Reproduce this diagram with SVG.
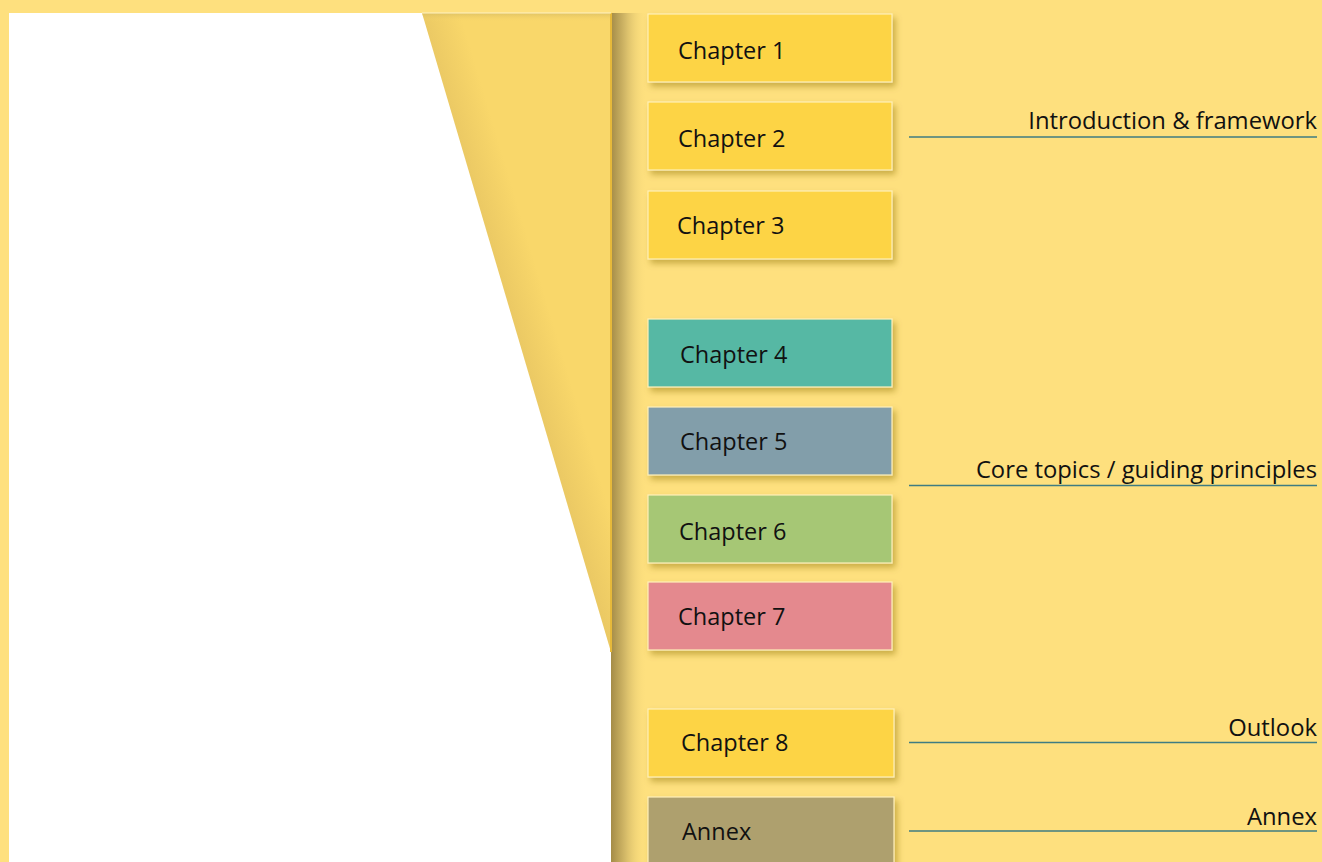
<svg xmlns="http://www.w3.org/2000/svg" width="1322" height="862" viewBox="0 0 1322 862">
  <defs>
    <style>
      .box { stroke: #FFF1B8; stroke-width: 1.2; filter: url(#drop); }
      .lbl { font-family: "Open Sans", "Noto Sans", sans-serif; font-size: 23.5px; fill: #111; }
      .sec { font-family: "Open Sans", "Noto Sans", sans-serif; font-size: 23.8px; fill: #111; text-anchor: end; }
      .rule { stroke: #3F7C82; stroke-width: 1.6; }
    </style>
    <filter id="drop" x="-10%" y="-20%" width="125%" height="150%">
      <feGaussianBlur in="SourceAlpha" stdDeviation="3"/>
      <feOffset dx="3" dy="4" result="b"/>
      <feFlood flood-color="#8A6E10" flood-opacity="0.45"/>
      <feComposite in2="b" operator="in"/>
      <feMerge><feMergeNode/><feMergeNode in="SourceGraphic"/></feMerge>
    </filter>
    <linearGradient id="pageShadow" x1="0" y1="0" x2="1" y2="0">
      <stop offset="0" stop-color="#A48C48"/>
      <stop offset="0.4" stop-color="#D4BA68"/>
      <stop offset="1" stop-color="#FEE07E" stop-opacity="0"/>
    </linearGradient>
    <linearGradient id="flapShade" gradientUnits="userSpaceOnUse" x1="470" y1="300" x2="540" y2="279">
      <stop offset="0" stop-color="#DEBC5E"/>
      <stop offset="1" stop-color="#F9D76A"/>
    </linearGradient>
    <linearGradient id="flapTop" x1="0" y1="0" x2="0" y2="1">
      <stop offset="0" stop-color="#D9BE62" stop-opacity="0.8"/>
      <stop offset="1" stop-color="#F9D76A" stop-opacity="0"/>
    </linearGradient>
  </defs>

  <!-- background -->
  <rect width="1322" height="862" fill="#FEE07E"/>

  <!-- page and folded corner -->
  <g id="page">
    <rect x="611" y="13" width="36" height="849" fill="url(#pageShadow)"/>
    <rect x="9" y="13" width="602" height="849" fill="#FFFFFF"/>
    <polygon points="422,13 611,13 611,652" fill="url(#flapShade)"/>
    <polygon points="422,13 611,13 611,22 425,22" fill="url(#flapTop)"/>
    <line x1="611" y1="13" x2="611" y2="652" stroke="#E6B93A" stroke-width="2"/>
    <line x1="422" y1="13" x2="611" y2="13" stroke="#FFF3C4" stroke-width="1"/>
  </g>

  <!-- chapter boxes -->
  <g id="chapter1"><rect class="box" x="648" y="14" width="244" height="68" fill="#FDD444"/><text class="lbl" x="678" y="59">Chapter 1</text></g>
  <g id="chapter2"><rect class="box" x="648" y="102" width="244" height="68" fill="#FDD444"/><text class="lbl" x="678" y="147">Chapter 2</text></g>
  <g id="chapter3"><rect class="box" x="648" y="191" width="244" height="68" fill="#FDD444"/><text class="lbl" x="677" y="234">Chapter 3</text></g>
  <g id="chapter4"><rect class="box" x="648" y="319" width="244" height="68" fill="#56B8A4"/><text class="lbl" x="680" y="363">Chapter 4</text></g>
  <g id="chapter5"><rect class="box" x="648" y="407" width="244" height="68" fill="#829EAA"/><text class="lbl" x="680" y="450">Chapter 5</text></g>
  <g id="chapter6"><rect class="box" x="648" y="495" width="244" height="68" fill="#A6C774"/><text class="lbl" x="679" y="540">Chapter 6</text></g>
  <g id="chapter7"><rect class="box" x="648" y="582" width="244" height="68" fill="#E4898E"/><text class="lbl" x="678" y="625">Chapter 7</text></g>
  <g id="chapter8"><rect class="box" x="648" y="709" width="246" height="68" fill="#FDD444"/><text class="lbl" x="681" y="751">Chapter 8</text></g>
  <g id="annex"><rect class="box" x="648" y="797" width="246" height="70" fill="#AEA06E"/><text class="lbl" x="682" y="840">Annex</text></g>

  <!-- section rules -->
  <g id="connectors">
    <line class="rule" x1="909" y1="137" x2="1317" y2="137"/>
    <line class="rule" x1="909" y1="485.5" x2="1317" y2="485.5"/>
    <line class="rule" x1="909" y1="742.5" x2="1317" y2="742.5"/>
    <line class="rule" x1="909" y1="831" x2="1317" y2="831"/>
  </g>

  <!-- section labels -->
  <g id="sections">
    <text class="sec" x="1317" y="129">Introduction &amp; framework</text>
    <text class="sec" x="1317" y="478">Core topics / guiding principles</text>
    <text class="sec" x="1317" y="736">Outlook</text>
    <text class="sec" x="1317" y="825">Annex</text>
  </g>
</svg>
